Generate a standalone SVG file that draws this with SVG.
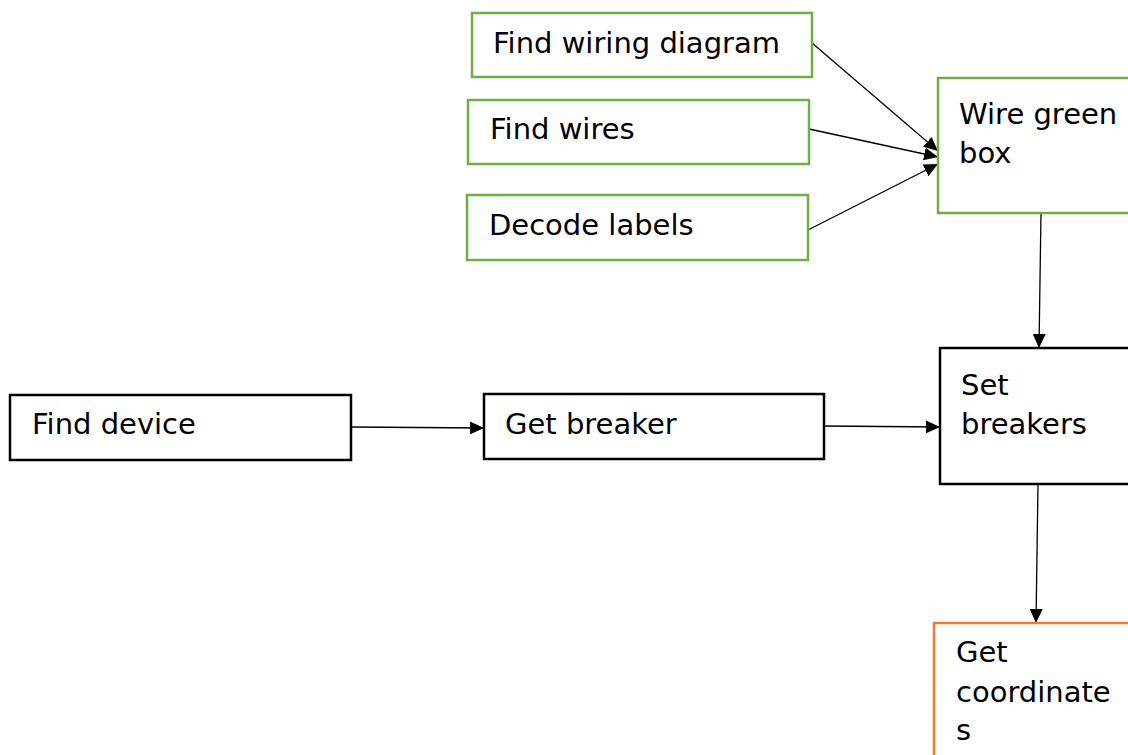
<svg xmlns="http://www.w3.org/2000/svg" width="1128" height="755" viewBox="0 0 1128 755">
  <defs>
    <marker id="arrow" viewBox="0 0 14 13" refX="14" refY="6.5" markerWidth="14" markerHeight="13" markerUnits="userSpaceOnUse" orient="auto">
      <path d="M0,0 L14,6.5 L0,13 Z" fill="#000"/>
    </marker>
    <style>
      .box { fill: #fff; stroke-width: 2.5; }
      .green { stroke: #70AD47; }
      .black { stroke: #000; }
      .orange { stroke: #ED7D31; }
      .label { font-family: "DejaVu Sans", "Liberation Sans", sans-serif; font-size: 29px; fill: #000; }
      .edge { stroke: #000; stroke-width: 1.3; fill: none; marker-end: url(#arrow); }
    </style>
  </defs>
  <rect width="1128" height="755" fill="#fff"/>

  <g id="connectors">
    <line class="edge" x1="812" y1="43" x2="938" y2="151"/>
    <line class="edge" x1="809" y1="129" x2="938" y2="157"/>
    <line class="edge" x1="808" y1="230" x2="938" y2="164"/>
    <line class="edge" x1="1041" y1="213" x2="1039" y2="348"/>
    <line class="edge" x1="351" y1="427" x2="484" y2="428"/>
    <line class="edge" x1="824" y1="426" x2="940" y2="427"/>
    <line class="edge" x1="1038" y1="484" x2="1036" y2="623"/>
  </g>

  <g id="find-wiring-diagram">
    <rect class="box green" x="472" y="13" width="340" height="64"/>
    <text class="label" x="493" y="53">Find wiring diagram</text>
  </g>
  <g id="find-wires">
    <rect class="box green" x="468" y="100" width="341" height="64"/>
    <text class="label" x="490" y="139">Find wires</text>
  </g>
  <g id="decode-labels">
    <rect class="box green" x="467" y="195" width="341" height="65"/>
    <text class="label" x="489" y="235">Decode labels</text>
  </g>
  <g id="wire-green-box">
    <rect class="box green" x="938" y="78" width="200" height="135"/>
    <text class="label" x="959" y="124">Wire green</text>
    <text class="label" x="959" y="163">box</text>
  </g>
  <g id="find-device">
    <rect class="box black" x="10" y="395" width="341" height="65"/>
    <text class="label" x="32" y="434">Find device</text>
  </g>
  <g id="get-breaker">
    <rect class="box black" x="484" y="394" width="340" height="65"/>
    <text class="label" x="505" y="434">Get breaker</text>
  </g>
  <g id="set-breakers">
    <rect class="box black" x="940" y="348" width="200" height="136"/>
    <text class="label" x="961" y="395">Set</text>
    <text class="label" x="961" y="434">breakers</text>
  </g>
  <g id="get-coordinates">
    <rect class="box orange" x="934" y="623" width="200" height="140"/>
    <text class="label" x="956" y="662">Get</text>
    <text class="label" x="956" y="702">coordinate</text>
    <text class="label" x="956" y="740">s</text>
  </g>
</svg>
